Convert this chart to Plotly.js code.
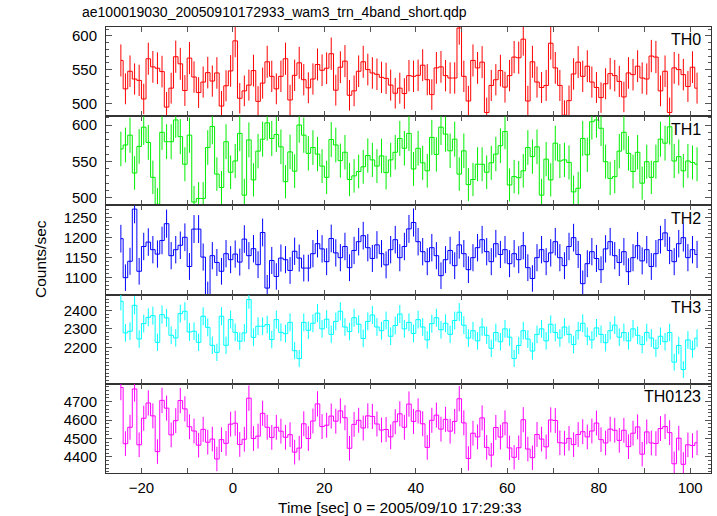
<!DOCTYPE html>
<html>
<head>
<meta charset="utf-8">
<script src="https://cdn.plot.ly/plotly-3.0.1.min.js"></script>
<style>html,body{margin:0;padding:0;background:#fff;}#chart{width:717px;height:516px;}</style>
</head>
<body>
<div id="chart"></div>
<script>
// Time bin centres (s)
const timeSec = [-24.5,-23.5,-22.5,-21.5,-20.5,-19.5,-18.5,-17.5,-16.5,-15.5,-14.5,-13.5,-12.5,-11.5,-10.5,-9.5,-8.5,-7.5,-6.5,-5.5,-4.5,-3.5,-2.5,-1.5,-0.5,0.5,1.5,2.5,3.5,4.5,5.5,6.5,7.5,8.5,9.5,10.5,11.5,12.5,13.5,14.5,15.5,16.5,17.5,18.5,19.5,20.5,21.5,22.5,23.5,24.5,25.5,26.5,27.5,28.5,29.5,30.5,31.5,32.5,33.5,34.5,35.5,36.5,37.5,38.5,39.5,40.5,41.5,42.5,43.5,44.5,45.5,46.5,47.5,48.5,49.5,50.5,51.5,52.5,53.5,54.5,55.5,56.5,57.5,58.5,59.5,60.5,61.5,62.5,63.5,64.5,65.5,66.5,67.5,68.5,69.5,70.5,71.5,72.5,73.5,74.5,75.5,76.5,77.5,78.5,79.5,80.5,81.5,82.5,83.5,84.5,85.5,86.5,87.5,88.5,89.5,90.5,91.5,92.5,93.5,94.5,95.5,96.5,97.5,98.5,99.5,100.5,101.5];

const th0 = [563.5,521.5,547.5,536,534,506.5,566,554,552,547,494.5,522.5,569,558.5,519,567,539,516,531.5,545.5,533,545,496,526,548,592.5,507.5,518.5,527,548.5,503,530,561.5,540,521.5,540,566,505,541.5,560,535,523,536,557.5,549,552,573.5,519.5,553.5,562.5,512,518.5,547.5,561.5,550,545,543,538.5,537,527,515,522.5,514.5,541,540,541.5,556.5,535,513,552.5,554,541,537.5,537.5,611.5,540,503.5,563.5,552.5,561,486.5,526.5,535,548.5,524,541,568.5,567.5,595,503.5,561.5,531.5,523.5,526.5,589,552.5,526.5,482.5,504,543.5,561,540,555,531.5,523.5,508.5,529,544,541,532.5,509.5,545,542.5,555,537.5,536,570,568.5,518.5,547.5,486.5,552.5,550,542.5,525,553.5,522.5];

const th1 = [567,572.5,586,534,570.5,597,576,528,491,590,577,577,607,584,546,586,494,499,499,569,598,532.5,514,577,535,550.5,588.5,503.5,579.5,524.5,564,580.5,603,581.5,587,570,522,563,536.5,600,586,561,569,560,543.5,528,580,572.5,551,562.5,525,530,536,542.5,558,552,543.5,557.5,534.5,552,562.5,581.5,568,588.5,539.5,568,548,537,583,559.5,597,587.5,564.5,580.5,532.5,564.5,518,525,546,546,535,548,560,571.5,591,517.5,529,527.5,537,569,556.5,570,503.5,553,524.5,575,550.5,552,548.5,508,513,581.5,559,604.5,607,595.5,549.5,526.5,529,564,590,561,536,562.5,520,549.5,528,549.5,580.5,575,597.5,550.5,556.5,537,550.5,548.5,546];

const th2 = [1197.5,1100,1141,1271.5,1116,1178,1189,1170,1159,1193,1235,1155,1170,1181,1201,1128,1221.5,1221.5,1151.5,1057.5,1155,1138,1116,1160,1145,1159,1139,1196.5,1155,1172.5,1132.5,1213,1074,1143,1103,1149,1145,1118,1166,1149,1124,1124,1160,1185,1172,1140,1198,1162,1150,1178,1125,1168,1190,1205,1175,1148,1182,1160,1132,1170,1195,1150,1178,1222,1238,1190,1165,1140,1175,1155,1105,1145,1168,1130,1182,1160,1120,1150,1175,1195,1165,1140,1185,1158,1170,1135,1160,1145,1180,1125,1098,1150,1170,1140,1162,1190,1150,1130,1178,1200,1158,1085,1135,1165,1148,1120,1172,1190,1155,1138,1165,1115,1150,1180,1142,1170,1128,1160,1195,1212,1168,1140,1185,1200,1150,1170,1158];

const th3 = [2449,2278,2287,2427,2245,2328,2362,2371,2227,2377,2359,2265,2251,2382,2395,2283,2287,2227,2368,2308,2211,2173,2368,2211,2350,2281,2233,2278,2458,2254,2314,2314,2323,2242,2350,2281,2274,2335,2182,2139,2335,2292,2330,2385,2300,2352,2270,2340,2395,2310,2285,2360,2325,2248,2340,2375,2310,2290,2345,2260,2318,2380,2300,2335,2275,2350,2310,2240,2328,2360,2295,2330,2270,2345,2390,2320,2250,2290,2235,2310,2265,2195,2280,2230,2300,2255,2140,2210,2290,2245,2180,2270,2300,2235,2325,2280,2250,2310,2270,2215,2290,2330,2260,2240,2305,2270,2225,2290,2320,2255,2280,2235,2300,2265,2215,2280,2250,2195,2260,2230,2280,2120,2210,2080,2240,2190,2250];

const th0123 = [4777,4472,4561,4769,4466,4610,4693,4623,4429,4707,4665,4520,4597,4706,4661,4564,4541,4464,4550,4480,4497,4389,4494,4474,4578,4583,4468,4496,4719,4500,4513,4637,4561,4506,4561,4540,4507,4521,4426,4448,4580,4500,4595,4688,4565,4572,4622,4594,4650,4613,4447,4577,4599,4557,4623,4620,4579,4546,4549,4509,4591,4634,4561,4687,4593,4650,4580,4452,4599,4627,4551,4604,4540,4593,4716,4585,4392,4529,4509,4612,4452,4410,4560,4508,4585,4449,4398,4450,4602,4443,4396,4522,4497,4455,4601,4598,4477,4475,4501,4467,4522,4537,4509,4541,4584,4494,4476,4551,4545,4490,4545,4456,4529,4563,4415,4536,4476,4473,4554,4565,4532,4363,4502,4360,4466,4462,4477];

const bandNames = ['TH0','TH1','TH2','TH3','TH0123'];
const bandData = [th0, th1, th2, th3, th0123];
const bandColors = ['#ff0000','#00ee00','#0000ff','#00ffff','#ff00ff'];
const yRanges = [[481,613],[489.4,612.1],[1057.7,1280.7],[2003,2485],[4313,4797]];
const yTickVals = [[500,550,600],[500,550,600],[1100,1150,1200,1250],[2200,2300,2400],[4400,4500,4600,4700]];
const yMinor = [10,10,10,20,20];
const xTickVals = [-20,0,20,40,60,80,100];
const titleText = 'ae100019030_20050910172933_wam3_trn_4band_short.qdp';
const xTitle = 'Time [sec] 0 = 2005/09/10 17:29:33';
const yTitle = 'Counts/sec';

const FONT = 'Liberation Sans, Arial, sans-serif';
const frameColor = '#333333';
const tickColor = '#555555';
const n = bandNames.length;
const traces = [];
const layout = {
  width: 717, height: 516,
  margin: {l: 106, r: 6, t: 27, b: 43, pad: 0},
  paper_bgcolor: '#ffffff', plot_bgcolor: '#ffffff',
  showlegend: false,
  font: {family: FONT, size: 15, color: '#000'},
  annotations: []
};
const plotH = 516 - 27 - 43;
for (let i = 0; i < n; i++) {
  const ax = i === 0 ? '' : String(i + 1);
  traces.push({
    type: 'scatter', mode: 'lines',
    x: timeSec, y: bandData[i],
    xaxis: 'x' + ax, yaxis: 'y' + ax,
    line: {color: bandColors[i], width: 1, shape: 'hvh'},
    error_y: {type: 'sqrt', visible: true, color: bandColors[i], thickness: 1, width: 0},
    hoverinfo: 'skip'
  });
  const top = 1 - i / n, bot = 1 - (i + 1) / n;
  layout['yaxis' + ax] = {
    domain: [bot, top], anchor: 'x' + ax, range: yRanges[i],
    tickmode: 'array', tickvals: yTickVals[i],
    ticks: 'inside', ticklen: 6, tickwidth: 1, tickcolor: tickColor,
    minor: {dtick: yMinor[i], tick0: 0, ticks: 'inside', ticklen: 3, tickwidth: 1, tickcolor: tickColor, showgrid: false},
    showline: true, linecolor: frameColor, linewidth: 1, mirror: 'ticks',
    showgrid: false, zeroline: false, ticklabelstandoff: 5,
    tickfont: {family: FONT, size: 15, color: '#000'}
  };
  layout['xaxis' + ax] = {
    domain: [0, 1], anchor: 'y' + ax, range: [-27.75, 104.55],
    tickmode: 'array', tickvals: xTickVals,
    ticks: 'inside', ticklen: 5, tickwidth: 1, tickcolor: tickColor,
    minor: {dtick: 10, tick0: 0, ticks: 'inside', ticklen: 5, tickwidth: 1, tickcolor: tickColor, showgrid: false},
    showline: true, linecolor: frameColor, linewidth: 1, mirror: 'ticks',
    showgrid: false, zeroline: false,
    showticklabels: i === n - 1, ticklabelstandoff: 1,
    tickfont: {family: FONT, size: 15, color: '#000'}
  };
  if (i > 0) layout['xaxis' + ax].matches = 'x';
  layout.annotations.push({
    xref: 'paper', yref: 'paper', x: 0.987, y: top - 13 / plotH,
    xanchor: 'right', yanchor: 'middle', showarrow: false,
    text: bandNames[i], font: {family: FONT, size: 16, color: '#000'}
  });
}
layout.annotations.push({
  xref: 'paper', yref: 'paper', x: (80 - 106) / 605, y: 1 + 15 / plotH,
  xanchor: 'left', yanchor: 'middle', showarrow: false,
  text: titleText, font: {family: FONT, size: 14, color: '#000'}
});
layout.annotations.push({
  xref: 'paper', yref: 'paper', x: (400 - 106) / 605, y: -(507 - 473) / plotH,
  xanchor: 'center', yanchor: 'middle', showarrow: false,
  text: xTitle, font: {family: FONT, size: 15.5, color: '#000'}
});
layout.annotations.push({
  xref: 'paper', yref: 'paper', x: (40 - 106) / 605, y: 1 - (259 - 27) / plotH,
  xanchor: 'center', yanchor: 'middle', showarrow: false, textangle: -90,
  text: yTitle, font: {family: FONT, size: 15.5, color: '#000'}
});
Plotly.newPlot('chart', traces, layout, {staticPlot: true, displayModeBar: false});
</script>
</body>
</html>
